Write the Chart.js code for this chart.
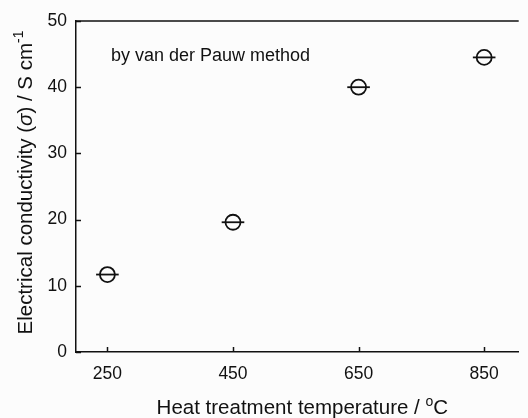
<!DOCTYPE html>
<html>
<head>
<meta charset="utf-8">
<script src="https://cdn.jsdelivr.net/npm/chart.js@4"></script>
<style>
  html, body { margin: 0; padding: 0; background: #fcfcfc; overflow: hidden; }
  #wrap { width: 528px; height: 418px; }
</style>
</head>
<body>
<div id="wrap"><canvas id="myChart" width="528" height="418"></canvas></div>
<script>
const temps = [250, 450, 650, 850];
const conductivity = [11.7, 19.6, 40.0, 44.5];
const tempErr = [18, 18, 18, 18];
const xTicks = [250, 450, 650, 850];
const yTicks = [0, 10, 20, 30, 40, 50];

const ink = '#111';
const family = '"Liberation Sans", Arial, sans-serif';
const tickFont = { family: family, size: 17.5 };

// draws a run of [text, style] pieces starting at x, baseline y
function drawRuns(c, runs, x, y, measureOnly) {
    let w = 0;
    runs.forEach(r => {
        c.font = r.font;
        if (!measureOnly) c.fillText(r.text, x + w, y - (r.rise || 0));
        w += c.measureText(r.text).width;
    });
    return w;
}

const titleSize = 20.5, supSize = 14;
const xTitle = [
    { text: 'Heat treatment temperature / ', font: titleSize + 'px ' + family },
    { text: 'o', font: supSize + 'px ' + family, rise: 8 },
    { text: 'C', font: titleSize + 'px ' + family }
];
const yTitle = [
    { text: 'Electrical conductivity (', font: titleSize + 'px ' + family },
    { text: 'σ', font: 'italic ' + titleSize + 'px ' + family },
    { text: ') / S cm', font: titleSize + 'px ' + family },
    { text: '-1', font: supSize + 'px ' + family, rise: 9 }
];

// horizontal error bars, inward tick marks, top frame line, titles and the note
const extras = {
    id: 'extras',
    afterDatasetsDraw(chart) {
        const c = chart.ctx, x = chart.scales.x, y = chart.scales.y, a = chart.chartArea;
        c.save();
        c.strokeStyle = ink;
        c.lineWidth = 1.8;
        temps.forEach((t, i) => {
            const py = y.getPixelForValue(conductivity[i]);
            c.beginPath();
            c.moveTo(x.getPixelForValue(t - tempErr[i]), py);
            c.lineTo(x.getPixelForValue(t + tempErr[i]), py);
            c.stroke();
        });
        c.lineWidth = 1.5;
        xTicks.forEach(v => {
            const px = Math.round(x.getPixelForValue(v)) + 0.5;
            c.beginPath();
            c.moveTo(px, a.bottom);
            c.lineTo(px, a.bottom - 5);
            c.stroke();
        });
        yTicks.forEach(v => {
            const py = Math.round(y.getPixelForValue(v)) + 0.5;
            c.beginPath();
            c.moveTo(a.left, py);
            c.lineTo(a.left + 5, py);
            c.stroke();
        });
        c.beginPath();
        c.moveTo(a.left, a.top);
        c.lineTo(a.right, a.top);
        c.stroke();

        c.fillStyle = ink;
        c.textBaseline = 'alphabetic';
        c.textAlign = 'left';
        c.font = '18px ' + family;
        c.fillText('by van der Pauw method', a.left + 35, a.top + 40);

        // axis titles
        const xw = drawRuns(c, xTitle, 0, 0, true);
        drawRuns(c, xTitle, (a.left + a.right) / 2 + 5 - xw / 2, 414);
        const yw = drawRuns(c, yTitle, 0, 0, true);
        c.translate(31.5, (a.top + a.bottom) / 2 - 4);
        c.rotate(-Math.PI / 2);
        drawRuns(c, yTitle, -yw / 2, 0);
        c.restore();
    }
};

const ctx = document.getElementById('myChart').getContext('2d');
const myChart = new Chart(ctx, {
    type: 'scatter',
    data: {
        datasets: [{
            data: temps.map((t, i) => ({ x: t, y: conductivity[i] })),
            pointStyle: 'circle',
            pointRadius: 7.5,
            pointBorderWidth: 1.8,
            pointBorderColor: ink,
            pointBackgroundColor: 'rgba(0,0,0,0)',
            showLine: false
        }]
    },
    options: {
        responsive: false,
        animation: false,
        layout: { padding: { top: 21, right: 0, left: 0, bottom: 0 } },
        plugins: { legend: { display: false }, tooltip: { enabled: false } },
        scales: {
            x: {
                type: 'linear',
                min: 200,
                max: 905,
                afterBuildTicks: s => { s.ticks = xTicks.map(v => ({ value: v })); },
                afterFit: s => { s.height = 66; },
                grid: { display: false, drawTicks: false },
                border: { display: true, color: ink, width: 1.5 },
                ticks: { color: ink, font: tickFont, padding: 12, maxRotation: 0 }
            },
            y: {
                min: 0,
                max: 50,
                afterBuildTicks: s => { s.ticks = yTicks.map(v => ({ value: v })); },
                afterFit: s => { s.width = 76; },
                grid: { display: false, drawTicks: false },
                border: { display: true, color: ink, width: 1.5 },
                ticks: { color: ink, font: tickFont, padding: 9 }
            }
        }
    },
    plugins: [extras]
});
</script>
</body>
</html>
